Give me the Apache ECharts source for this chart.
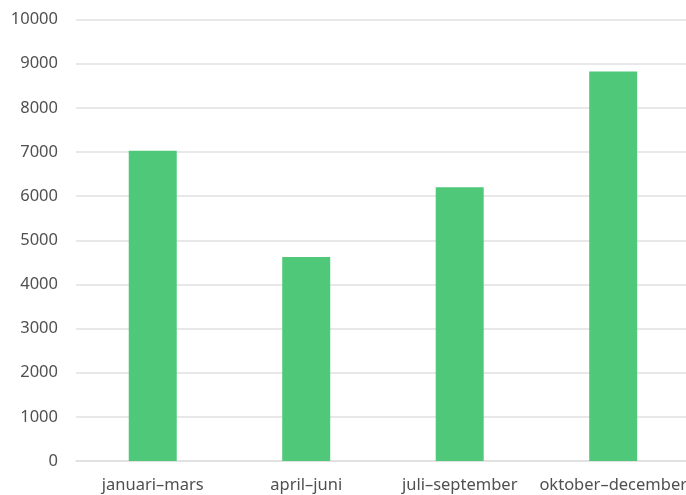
<!DOCTYPE html>
<html>
<head>
<meta charset="utf-8">
<script src="https://cdn.jsdelivr.net/npm/echarts@6/dist/echarts.min.js"></script>
<style>
html,body{margin:0;padding:0;overflow:hidden;background:#fff;}
#c{width:690px;height:495px;}
</style>
</head>
<body>
<div id="c"></div>
<script>
const categories = ["januari–mars", "april–juni", "juli–september", "oktober–december"];
const values = [7030, 4620, 6200, 8820];
const yTicks = { min: 0, max: 10000, interval: 1000 };

const chart = echarts.init(document.getElementById('c'), null, { renderer: 'canvas' });
chart.setOption({
  animation: false,
  grid: { left: 76, right: 0, top: 19.5, bottom: 34 },
  xAxis: {
    type: 'category',
    data: categories,
    axisLine: { show: true, lineStyle: { color: '#e0e0e0', width: 1.5 } },
    axisTick: { show: false },
    axisLabel: { interval: 0, color: '#505050', fontFamily: 'Noto Sans', fontSize: 16.5, margin: 16 }
  },
  yAxis: {
    type: 'value',
    min: yTicks.min, max: yTicks.max, interval: yTicks.interval,
    axisLine: { show: false },
    axisTick: { show: false },
    splitLine: { lineStyle: { color: '#e0e0e0', width: 1.5 } },
    axisLabel: { color: '#505050', fontFamily: 'Noto Sans', fontSize: 16.5, margin: 18, verticalAlign: 'middle', padding: [2, 0, 0, 0], formatter: v => String(v) }
  },
  series: [{
    type: 'bar',
    data: values,
    barWidth: 48,
    itemStyle: { color: '#4fc87a' }
  }]
});
</script>
</body>
</html>
